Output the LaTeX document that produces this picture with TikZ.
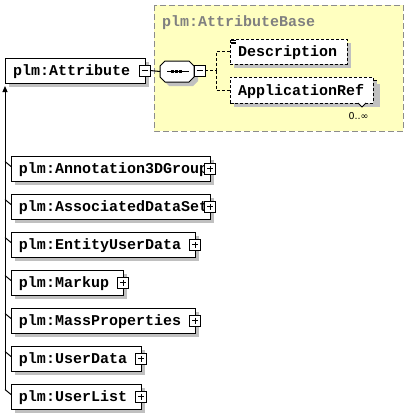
\documentclass[tikz,border=0pt]{standalone}
\usepackage{fontspec}
\newfontfamily\xsdmono{Liberation Mono}
\newfontfamily\xsdsans{DejaVu Sans}
\usetikzlibrary{calc,shadows,arrows.meta}
\definecolor{shadowgray}{RGB}{192,192,192}
\definecolor{paleyellow}{RGB}{255,255,192}
\definecolor{framegray}{RGB}{140,140,140}
\definecolor{titlegray}{RGB}{128,128,128}
\newcommand\xsdfont{\xsdmono\bfseries\fontsize{15pt}{15pt}\selectfont}
\newcommand\octpath[1]{($(#1.north west)+(5,0)$) -- ($(#1.north east)+(-5,0)$) -- ($(#1.north east)+(0,5)$) -- ($(#1.south east)+(0,-5)$) -- ($(#1.south east)+(-5,0)$) -- ($(#1.south west)+(5,0)$) -- ($(#1.south west)+(0,-5)$) -- ($(#1.north west)+(0,5)$) -- cycle}
\begin{document}
\begin{tikzpicture}[x=1pt,y=-1pt,
  every node/.style={inner sep=0pt,outer sep=0pt},
  shad/.style={drop shadow={shadow xshift=4pt,shadow yshift=-4pt,fill=shadowgray,opacity=1,draw=none}},
  elem/.style={draw=black,line width=1pt,fill=white,shad,anchor=north west,minimum height=25pt,inner xsep=8pt,align=left,font=\xsdfont,text height=10pt,text depth=0pt},
  optelem/.style={elem,dash pattern=on 3pt off 2pt},
  conn/.style={line width=1pt,draw=black},
  optconn/.style={conn,dash pattern=on 3pt off 2pt},
  togbox/.style={draw=black,line width=1pt,fill=white,minimum size=11pt,inner sep=0pt},
  minusbox/.style={togbox,path picture={\draw[line width=1pt] ([xshift=2.5pt]path picture bounding box.west) -- ([xshift=-2.5pt]path picture bounding box.east);}},
  plusbox/.style={togbox,path picture={\draw[line width=1pt] ([xshift=2.5pt]path picture bounding box.west) -- ([xshift=-2.5pt]path picture bounding box.east) ([yshift=-2.5pt]path picture bounding box.north) -- ([yshift=2.5pt]path picture bounding box.south);}},
]
\useasboundingbox (0,0) rectangle (409,415);
\fill[white] (0,0) rectangle (409,415);

% complex type frame
\draw[fill=paleyellow,draw=framegray,line width=1pt,dash pattern=on 6pt off 3pt] (154,5) rectangle (403,131);
\node[anchor=west,font=\xsdfont,text=titlegray,text height=10pt,text depth=0pt] (basetitle) at (162,21) {plm:AttributeBase};

% main element
\node[elem,text width=124pt] (attr) at (5,58) {\mbox{plm:Attribute}};
\node[minusbox] (attrminus) at (144.5,70.5) {};

% sequence compositor
\node[minimum width=34pt,minimum height=21pt] (seq) at (177,71.5) {};
\fill[shadowgray,transform canvas={shift={(4,4)}}] \octpath{seq};
\draw[line width=1pt,fill=white] \octpath{seq};
\draw[line width=1pt] ($(seq.center)+(-10,-0.5)$) -- ($(seq.center)+(12,-0.5)$);
\foreach \dx in {-4.5,-0.5,3.5}{\fill ($(seq.center)+(\dx-1.5,-2)$) rectangle ++(3,3);}
\node[minusbox] (seqminus) at (199.5,70.5) {};
\draw[conn] (attrminus.east) -- (seq.west);

% children of sequence
\node[optelem,text width=101pt] (desc) at (230,39) {\mbox{Description}};
\draw[line width=0.7pt] (231,40.5) -- (236,40.5) (231,42) -- (236,42) (231,43.5) -- (236,43.5);
\node[optelem,minimum height=23pt,text width=127pt] (apprefback) at (233,80) {};
\node[optelem,minimum height=26pt,text width=127pt,drop shadow={opacity=0}] (appref) at (230,77) {\mbox{ApplicationRef}};
\coordinate (vtip) at (362,107);
\draw[line width=0.8pt,fill=white] (358,103) -- (vtip) -- (366,103);
\node[font=\xsdsans\fontsize{9.5pt}{10pt}\selectfont] (occ) at (358.5,116) {0..∞};

\coordinate (fork) at (216,70.5);
\draw[optconn] (seqminus.east) -- (fork);
\draw[optconn] (fork) |- (desc.west);
\draw[optconn] (fork) |- (appref.west);

% derived elements
\node[elem,text width=183pt] (ann) at (11,156) {\mbox{plm:Annotation3DGroup}};
\node[plusbox] (annplus) at (ann.east) {};
\node[elem,text width=183pt] (ads) at (11,194) {\mbox{plm:AssociatedDataSet}};
\node[plusbox] (adsplus) at (ads.east) {};
\node[elem,text width=168pt] (eud) at (11,232) {\mbox{plm:EntityUserData}};
\node[plusbox] (eudplus) at (eud.east) {};
\node[elem,text width=96pt] (mkp) at (11,270) {\mbox{plm:Markup}};
\node[plusbox] (mkpplus) at (mkp.east) {};
\node[elem,text width=168pt] (mass) at (11,308) {\mbox{plm:MassProperties}};
\node[plusbox] (massplus) at (mass.east) {};
\node[elem,text width=114pt] (udata) at (11,346) {\mbox{plm:UserData}};
\node[plusbox] (udataplus) at (udata.east) {};
\node[elem,text width=114pt] (ulist) at (11,384) {\mbox{plm:UserList}};
\node[plusbox] (ulistplus) at (ulist.east) {};

% trunk
\coordinate (trunktop) at (5,86);
\coordinate (trunkbot) at (5,390);
\draw[conn,-{Triangle[width=5pt,length=6pt]}] (trunkbot) -- (trunktop);
\foreach \c/\y in {ann/168.5,ads/206.5,eud/244.5,mkp/282.5,mass/320.5,udata/358.5,ulist/396.5}{
  \coordinate (t-\c) at (5,\y-7);
  \draw[conn] (t-\c) -- ([yshift=2pt]\c.west);
}
\end{tikzpicture}
\end{document}
